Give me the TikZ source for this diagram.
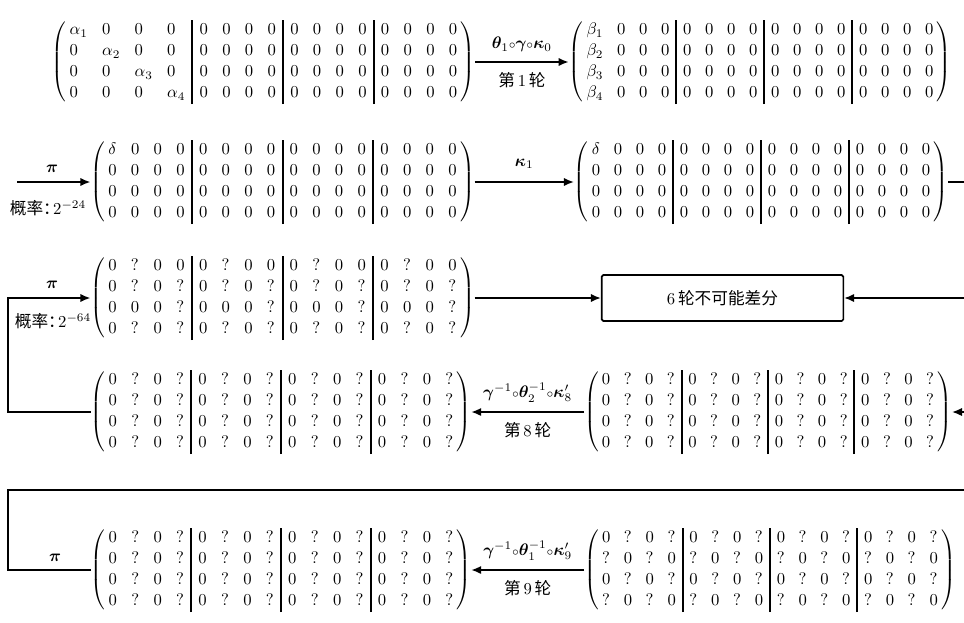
\documentclass[tikz,border=0pt]{standalone}
\usepackage{amsmath,bm}
\usepackage{fontspec}
\newfontfamily\cjk{Noto Sans CJK SC}
\usetikzlibrary{arrows.meta}
\newcommand{\mtx}[2][4.3pt]{$\setlength{\arrayrulewidth}{1.2pt}\renewcommand{\arraystretch}{1.05}\setlength{\arraycolsep}{#1}\left(\begin{array}{@{\hspace{2pt}}llll|llll|llll|llll@{\hspace{2pt}}}#2\end{array}\right)$}
\newcommand{\rep}[1]{#1&#1&#1&#1}
\newcommand{\Zr}{0&0&0&0&0&0&0&0&0&0&0&0}
\newcommand{\ci}{{\scriptstyle\circ}}
\tikzset{
  mat/.style={inner sep=0pt, outer sep=0pt},
  conn/.style={line width=1pt},
  arr/.style={conn, -{Latex[length=6pt,width=5pt]}},
  lbl/.style={inner sep=1.5pt},
  box/.style={draw, line width=1pt, rounded corners=1pt, minimum width=145pt, minimum height=27.6pt, inner sep=0pt}
}
\begin{document}
\begin{tikzpicture}[x=0.6pt,y=-0.6pt]
\useasboundingbox (0,0) rectangle (964,622);
% row 1
\node[mat] (A) at (263.5,62) {\mtx{\alpha_1&0&0&0&\Zr\\ 0&\alpha_2&0&0&\Zr\\ 0&0&\alpha_3&0&\Zr\\ 0&0&0&\alpha_4&\Zr}};
\node[mat] (B) at (760,62) {\mtx[4.1pt]{\beta_1&0&0&0&\Zr\\ \beta_2&0&0&0&\Zr\\ \beta_3&0&0&0&\Zr\\ \beta_4&0&0&0&\Zr}};
\draw[arr] (A.east) -- node[lbl,above=4pt]{$\bm\theta_1\ci\bm\gamma\ci\bm\kappa_0$} node[lbl,below=4pt]{{\cjk 第}\,1\,{\cjk 轮}} (B.west);
% row 2
\node[mat] (C) at (282.5,182) {\mtx{\delta&0&0&0&\Zr\\ 0&0&0&0&\Zr\\ 0&0&0&0&\Zr\\ 0&0&0&0&\Zr}};
\node[mat] (D) at (761,182) {\mtx[4.1pt]{\delta&0&0&0&\Zr\\ 0&0&0&0&\Zr\\ 0&0&0&0&\Zr\\ 0&0&0&0&\Zr}};
\coordinate (P1) at (17,182);
\draw[arr] (P1) -- (C.west);
\node[lbl] (pi1) at (52,169) {$\bm\pi$};
\node[lbl] (pr1) at (48,208) {{\cjk 概率：}\kern-4pt$2^{-24}$};
\draw[arr] (C.east) -- node[lbl,above=6pt]{$\bm\kappa_1$} (D.west);
\coordinate (R2) at (964,182);
\draw[conn] (D.east) -- (R2);
% row 3
\node[mat] (E) at (282.5,298) {\mtx{\rep{0&?&0&0}\\ \rep{0&?&0&?}\\ \rep{0&0&0&?}\\ \rep{0&?&0&?}}};
\node[box] (X) at (722.5,298) {6\,{\cjk 轮不可能差分}};
\draw[arr] (E.east) -- (X.west);
\coordinate (R3) at (964,298);
\draw[arr] (R3) -- (X.east);
% row 4
\node[mat] (F) at (281,412) {\mtx{\rep{0&?&0&?}\\ \rep{0&?&0&?}\\ \rep{0&?&0&?}\\ \rep{0&?&0&?}}};
\node[mat] (G) at (768,412) {\mtx[4.05pt]{\rep{0&?&0&?}\\ \rep{0&?&0&?}\\ \rep{0&?&0&?}\\ \rep{0&?&0&?}}};
\coordinate (L1) at (8,0);
\draw[arr] (F.west) -- (F.west -| L1) |- (E.west);
\node[lbl] (pi2) at (52,285) {$\bm\pi$};
\node[lbl] (pr2) at (53,321) {{\cjk 概率：}\kern-4pt$2^{-64}$};
\draw[arr] (G.west) -- node[lbl,above=4pt]{$\bm\gamma^{-1}\ci\bm\theta_2^{-1}\ci\bm\kappa'_8$} node[lbl,below=4pt]{{\cjk 第}\,8\,{\cjk 轮}} (F.east);
\coordinate (R4) at (964,412);
\draw[arr] (R4) -- (G.east);
% row 5
\node[mat] (H) at (281,570) {\mtx{\rep{0&?&0&?}\\ \rep{0&?&0&?}\\ \rep{0&?&0&?}\\ \rep{0&?&0&?}}};
\node[mat] (I) at (770,570) {\mtx[4.05pt]{\rep{0&?&0&?}\\ \rep{?&0&?&0}\\ \rep{0&?&0&?}\\ \rep{?&0&?&0}}};
\coordinate (R5) at (964,490);
\draw[conn] (R5) -- (R5 -| L1) |- (H.west);
\node[lbl] (pi3) at (55,558) {$\bm\pi$};
\draw[arr] (I.west) -- node[lbl,above=4pt]{$\bm\gamma^{-1}\ci\bm\theta_1^{-1}\ci\bm\kappa'_9$} node[lbl,below=4pt]{{\cjk 第}\,9\,{\cjk 轮}} (H.east);
\end{tikzpicture}
\end{document}
